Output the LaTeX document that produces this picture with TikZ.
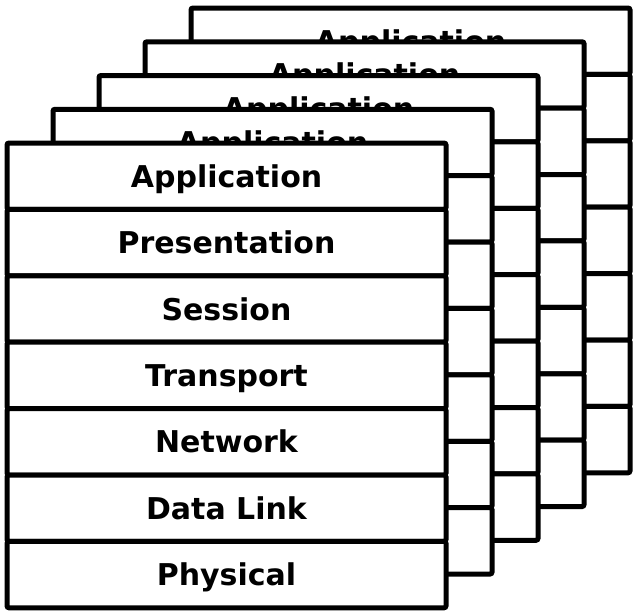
\documentclass[tikz,border=0pt]{standalone}
\usepackage{fontspec}
\setmainfont{DejaVu Sans}
\usetikzlibrary{positioning}

\tikzset{
  layer/.style={draw, fill=white, line width=5pt, outer sep=0pt, rounded corners=2pt,
    minimum width=439pt, minimum height=66.4pt, inner sep=0pt,
    text height=22pt, text depth=0pt, font=\bfseries\fontsize{30}{30}\selectfont},
}

\begin{document}
\begin{tikzpicture}[x=1pt, y=-1pt]
		\useasboundingbox (0,0) rectangle (633,613);
		
		% stacks behind
		\foreach \s in {4,3,2,1} {
			\node[layer, anchor=north west] (r\s-1) at ({7+46*\s}, {143-33.75*\s}) {Application};
			\foreach \r [evaluate=\r as \q using int(\r-1)] in {2,...,7}
				\node[layer, below=0pt of r\s-\q] (r\s-\r) {};
		}
		
		% front stack
		\node[layer, anchor=north west] (app) at (7,143) {Application};
		\node[layer, below=0pt of app] (pres) {Presentation};
		\node[layer, below=0pt of pres] (sess) {Session};
		\node[layer, below=0pt of sess] (trans) {Transport};
		\node[layer, below=0pt of trans] (net) {Network};
		\node[layer, below=0pt of net] (link) {Data Link};
		\node[layer, below=0pt of link] (phys) {Physical};
	\end{tikzpicture}
\end{document}
